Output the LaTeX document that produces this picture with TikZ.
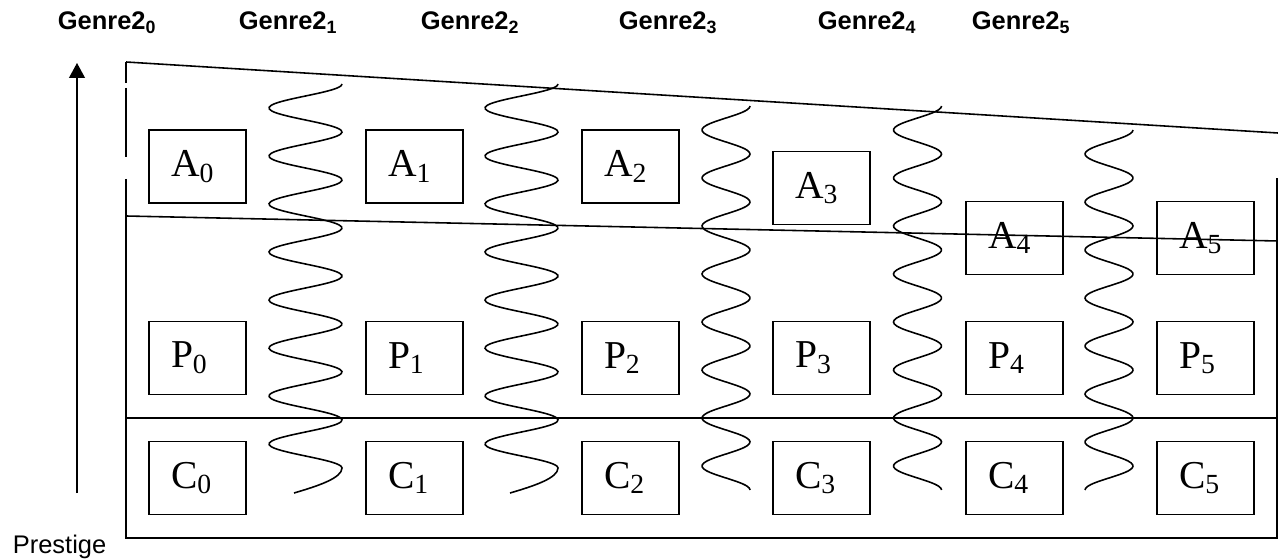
\documentclass[tikz,border=0pt]{standalone}
\usepackage{fontspec}
\setmainfont{Liberation Serif}
\newfontfamily\labelfont{Liberation Sans}
\usetikzlibrary{arrows.meta}

\begin{document}
\begin{tikzpicture}[x=0.02cm, y=-0.02cm, line width=0.9pt,
    cellbox/.style={draw, minimum height=1.46cm, text width=1.06cm, inner xsep=0.44cm,
        inner ysep=0pt, align=left, font=\fontsize{22.5}{22.5}\selectfont},
    genre/.style={anchor=base west, inner sep=0pt, font=\labelfont\bfseries\fontsize{14.5}{15}\selectfont}]
    \useasboundingbox (0,0) rectangle (1278,560);

    % Genre labels
    \node[genre] (g0) at (57,30) {Genre2\textsubscript{0}};
    \node[genre] (g1) at (238,30) {Genre2\textsubscript{1}};
    \node[genre] (g2) at (420,30) {Genre2\textsubscript{2}};
    \node[genre] (g3) at (618,30) {Genre2\textsubscript{3}};
    \node[genre] (g4) at (817,30) {Genre2\textsubscript{4}};
    \node[genre] (g5) at (971,30) {Genre2\textsubscript{5}};

    % Prestige axis
    \coordinate (ptail) at (77,493);
    \coordinate (phead) at (77,63);
    \draw[-{Triangle[width=9pt,length=8.5pt]}] (ptail) -- (phead);
    \node[anchor=base west, inner sep=0pt, font=\labelfont\fontsize{14.5}{15}\selectfont] (prestige) at (12,553) {Prestige};

    % Frame
    \draw (126,62) -- (126,83);
    \draw (126,88) -- (126,157);
    \draw (126,179) -- (126,538) -- (1277,538) -- (1277,178);
    \draw (126,62) -- (1278,133);
    \draw (126,216) -- (1278,241);
    \draw (126,418) -- (1278,418);

    % A row
    \node[cellbox] (A0) at (197.5,166.5) {A\textsubscript{0}};
    \node[cellbox] (A1) at (414.5,166.5) {A\textsubscript{1}};
    \node[cellbox] (A2) at (630.5,166.5) {A\textsubscript{2}};
    \node[cellbox] (A3) at (821.5,188) {A\textsubscript{3}};
    \node[cellbox] (A4) at (1014.5,238) {A\textsubscript{4}};
    \node[cellbox] (A5) at (1205.5,238) {A\textsubscript{5}};

    % P row
    \node[cellbox] (P0) at (197.5,358) {P\textsubscript{0}};
    \node[cellbox] (P1) at (414.5,358) {P\textsubscript{1}};
    \node[cellbox] (P2) at (630.5,358) {P\textsubscript{2}};
    \node[cellbox] (P3) at (821.5,358) {P\textsubscript{3}};
    \node[cellbox] (P4) at (1014.5,358) {P\textsubscript{4}};
    \node[cellbox] (P5) at (1205.5,358) {P\textsubscript{5}};

    % C row
    \node[cellbox] (C0) at (197.5,478) {C\textsubscript{0}};
    \node[cellbox] (C1) at (414.5,478) {C\textsubscript{1}};
    \node[cellbox] (C2) at (630.5,478) {C\textsubscript{2}};
    \node[cellbox] (C3) at (821.5,478) {C\textsubscript{3}};
    \node[cellbox] (C4) at (1014.5,478) {C\textsubscript{4}};
    \node[cellbox] (C5) at (1205.5,478) {C\textsubscript{5}};

    % Waves between the columns (one period = 48 units, 7.5 degrees per unit)
    \draw plot[domain=84:468, samples=200, smooth, variable=\t] ({305.5+36.5*cos(7.5*(\t-84))}, \t)
        .. controls (342,478) and (318,486) .. (294,493);
    \draw plot[domain=84:468, samples=200, smooth, variable=\t] ({521.5+36.5*cos(7.5*(\t-84))}, \t)
        .. controls (558,478) and (534,486) .. (510,493);
    \draw plot[domain=106:490, samples=200, smooth, variable=\t] ({726+24*cos(7.5*(\t-106))}, \t);
    \draw plot[domain=106:490, samples=200, smooth, variable=\t] ({917.5+24*cos(7.5*(\t-106))}, \t);
    \draw plot[domain=130:490, samples=200, smooth, variable=\t] ({1109+24*cos(7.5*(\t-130))}, \t);
\end{tikzpicture}
\end{document}
